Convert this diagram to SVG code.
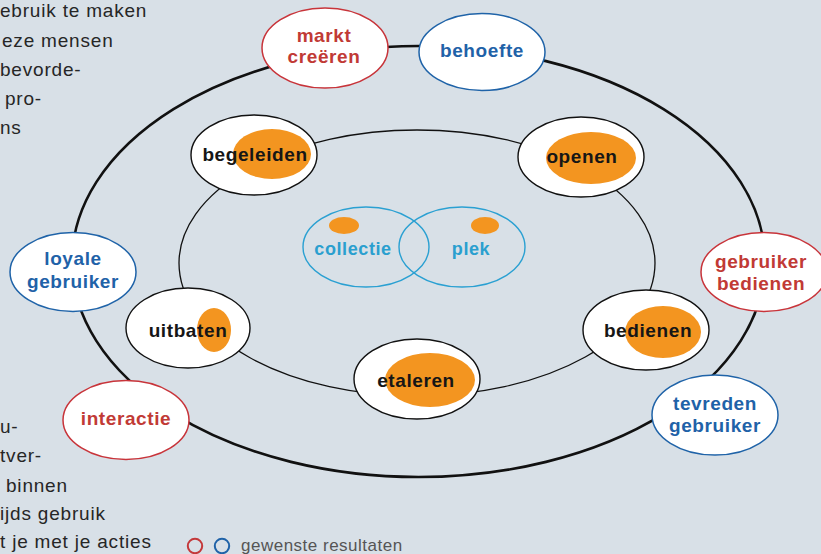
<svg xmlns="http://www.w3.org/2000/svg" width="821" height="554" viewBox="0 0 821 554">
  <style>
    .bg { fill: #d8e0e7; }
    .ring-outer { fill: none; stroke: #111; stroke-width: 2.6; }
    .ring-inner { fill: none; stroke: #111; stroke-width: 1.3; }
    .act { fill: #fff; stroke: #111; stroke-width: 1.4; }
    .blob { fill: #f39520; }
    .res-red { fill: #fff; stroke: #c8343a; stroke-width: 1.5; }
    .res-blue { fill: #fff; stroke: #1f63a8; stroke-width: 1.5; }
    .venn { fill: none; stroke: #2aa0d2; stroke-width: 1.4; }
    .lbl { font-family: "Liberation Sans", Arial, sans-serif; font-weight: bold; font-size: 19px; letter-spacing: 0.6px; text-anchor: middle; }
    .dark { fill: #161616; }
    .red { fill: #c13a35; }
    .blue { fill: #1f62a8; }
    .cyan { fill: #2a9fcf; font-size: 18px; }
    .body { font-family: "Liberation Sans", Arial, sans-serif; font-size: 19px; letter-spacing: 0.8px; fill: #262626; }
    .legend { font-family: "Liberation Sans", Arial, sans-serif; font-size: 17px; letter-spacing: 0.5px; fill: #555; }
  </style>

  <rect class="bg" x="0" y="0" width="821" height="554"/>

  <!-- surrounding paragraph fragments -->
  <g id="body-text">
    <text class="body" x="0" y="17">ebruik te maken</text>
    <text class="body" x="2" y="47">eze mensen</text>
    <text class="body" x="0" y="76">bevorde-</text>
    <text class="body" x="5" y="105">pro-</text>
    <text class="body" x="0" y="134">ns</text>
    <text class="body" x="0" y="433">u-</text>
    <text class="body" x="0" y="462">tver-</text>
    <text class="body" x="6" y="492">binnen</text>
    <text class="body" x="0" y="520">ijds gebruik</text>
    <text class="body" x="0" y="548">t je met je acties</text>
  </g>

  <!-- the two cycles -->
  <g id="connectors">
    <ellipse class="ring-outer" cx="418.5" cy="261.5" rx="346.5" ry="215.5"/>
    <ellipse class="ring-inner" cx="417" cy="263" rx="238" ry="133"/>
  </g>

  <!-- centre: collectie and plek -->
  <g id="collectie">
    <ellipse class="venn" cx="366" cy="247" rx="63" ry="40"/>
    <ellipse class="blob" cx="344" cy="225.5" rx="15" ry="8.5"/>
    <text class="lbl cyan" x="353" y="255">collectie</text>
  </g>
  <g id="plek">
    <ellipse class="venn" cx="462" cy="247" rx="63" ry="40"/>
    <ellipse class="blob" cx="485" cy="225.5" rx="14" ry="8.5"/>
    <text class="lbl cyan" x="471" y="255">plek</text>
  </g>

  <!-- activities on the inner cycle -->
  <g id="begeleiden">
    <ellipse class="act" cx="254" cy="155" rx="63" ry="40"/>
    <ellipse class="blob" cx="272" cy="154" rx="39" ry="25"/>
    <text class="lbl dark" x="255" y="161">begeleiden</text>
  </g>
  <g id="openen">
    <ellipse class="act" cx="581" cy="157" rx="63" ry="40"/>
    <ellipse class="blob" cx="591" cy="158" rx="45" ry="26"/>
    <text class="lbl dark" x="582" y="163">openen</text>
  </g>
  <g id="bedienen">
    <ellipse class="act" cx="646" cy="330" rx="63" ry="40"/>
    <ellipse class="blob" cx="663" cy="332" rx="38" ry="26"/>
    <text class="lbl dark" x="648" y="337">bedienen</text>
  </g>
  <g id="etaleren">
    <ellipse class="act" cx="417" cy="379" rx="63" ry="40"/>
    <ellipse class="blob" cx="430" cy="380" rx="45" ry="27"/>
    <text class="lbl dark" x="416" y="387">etaleren</text>
  </g>
  <g id="uitbaten">
    <ellipse class="act" cx="188" cy="328" rx="62" ry="40"/>
    <ellipse class="blob" cx="214" cy="330" rx="17" ry="22"/>
    <text class="lbl dark" x="188" y="337">uitbaten</text>
  </g>

  <!-- results on the outer cycle -->
  <g id="markt-creeren">
    <ellipse class="res-red" cx="325" cy="48" rx="63" ry="40"/>
    <text class="lbl red" x="324" y="42">markt</text>
    <text class="lbl red" x="324" y="63">creëren</text>
  </g>
  <g id="behoefte">
    <ellipse class="res-blue" cx="482" cy="52" rx="63" ry="38.5"/>
    <text class="lbl blue" x="482" y="57">behoefte</text>
  </g>
  <g id="gebruiker-bedienen">
    <ellipse class="res-red" cx="764" cy="272" rx="63" ry="39.5"/>
    <text class="lbl red" x="761" y="268">gebruiker</text>
    <text class="lbl red" x="761" y="290">bedienen</text>
  </g>
  <g id="tevreden-gebruiker">
    <ellipse class="res-blue" cx="715" cy="415" rx="63" ry="40"/>
    <text class="lbl blue" x="715" y="410">tevreden</text>
    <text class="lbl blue" x="715" y="432">gebruiker</text>
  </g>
  <g id="interactie">
    <ellipse class="res-red" cx="126" cy="420" rx="63" ry="39.5"/>
    <text class="lbl red" x="126" y="425">interactie</text>
  </g>
  <g id="loyale-gebruiker">
    <ellipse class="res-blue" cx="73" cy="272" rx="63" ry="39.5"/>
    <text class="lbl blue" x="73" y="265">loyale</text>
    <text class="lbl blue" x="73" y="288">gebruiker</text>
  </g>

  <!-- legend -->
  <g id="legend">
    <circle cx="195" cy="546" r="7.2" fill="none" stroke="#c4383a" stroke-width="2"/>
    <circle cx="222" cy="546" r="7.2" fill="none" stroke="#1f62a8" stroke-width="2"/>
    <text class="legend" x="241" y="551">gewenste resultaten</text>
  </g>
</svg>
